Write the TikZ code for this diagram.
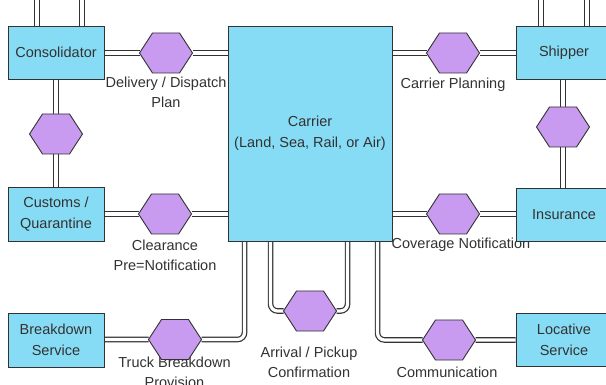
\documentclass[tikz,border=0pt]{standalone}
\usepackage{fontspec}
\setmainfont{Liberation Sans}
\usetikzlibrary{calc}
\definecolor{boxc}{RGB}{135,220,245}
\definecolor{hexc}{RGB}{200,155,240}
\definecolor{txt}{RGB}{50,50,50}
\definecolor{edge}{RGB}{50,50,50}
\tikzset{
  box/.style={draw=edge, fill=boxc, line width=0.9pt, text=txt, align=center,
    font=\fontsize{14.5}{21}\selectfont, inner sep=0pt},
  hexnode/.style={minimum width=53pt, minimum height=40pt, inner sep=0pt, outer sep=0pt},
  hexdraw/.style={draw=edge, fill=hexc, line width=0.9pt, line join=miter},
  conn/.style={draw=edge, line width=1.2pt, double=white, double distance=3.2pt},
  lab/.style={font=\fontsize{14.5}{20}\selectfont, text=txt, align=center, fill=white, inner sep=1pt}
}
\begin{document}
\begin{tikzpicture}[x=1pt,y=-1pt]
\useasboundingbox (0,0) rectangle (606,385);
\clip (0,0) rectangle (606,385);
\fill[white] (0,0) rectangle (606,385);
% hexagon anchor nodes
\node[hexnode] (hA) at (166,53) {};
\node[hexnode] (hB) at (56,134) {};
\node[hexnode] (hC) at (165,214) {};
\node[hexnode] (hD) at (175,339.5) {};
\node[hexnode] (hE) at (310,311) {};
\node[hexnode] (hF) at (449,340) {};
\node[hexnode] (hG) at (453,214) {};
\node[hexnode] (hH) at (453,53) {};
\node[hexnode] (hI) at (563,127) {};
% box positions (boxes drawn later)
\path (56,52.5) node[box, minimum width=96pt, minimum height=53pt, draw=none, fill=none] (cons) {}
      (56,214) node[box, minimum width=96pt, minimum height=54pt, draw=none, fill=none] (cust) {}
      (56,340) node[box, minimum width=96pt, minimum height=54pt, draw=none, fill=none] (brk) {}
      (310,133.5) node[box, minimum width=164pt, minimum height=215pt, draw=none, fill=none] (carrier) {}
      (564,52.5) node[box, minimum width=96pt, minimum height=53pt, draw=none, fill=none] (ship) {}
      (564,214.5) node[box, minimum width=96pt, minimum height=53pt, draw=none, fill=none] (ins) {}
      (564,339.5) node[box, minimum width=96pt, minimum height=53pt, draw=none, fill=none] (loc) {};
\coordinate (s1) at (37,-6);
\coordinate (s2) at (82,-6);
\coordinate (s3) at (541,-6);
\coordinate (s4) at (587,-6);
% connectors
\draw[conn] (s1) -- (s1 |- cons.north);
\draw[conn] (s2) -- (s2 |- cons.north);
\draw[conn] (s3) -- (s3 |- ship.north);
\draw[conn] (s4) -- (s4 |- ship.north);
\draw[conn] (cons.east |- hA) -- (hA) -- (carrier.west |- hA);
\draw[conn] (cons.south -| hB) -- (hB) -- (cust.north -| hB);
\draw[conn] (cust.east |- hC) -- (hC) -- (carrier.west |- hC);
\draw[conn, rounded corners=7pt] (brk.east |- hD) -- (hD) -| ($(carrier.south west)+(17,0)$);
\draw[conn, rounded corners=7pt] ($(carrier.south west)+(43,0)$) |- (hE.west);
\draw[conn, rounded corners=7pt] ($(carrier.south west)+(120,0)$) |- (hE.east);
\draw[conn, rounded corners=7pt] ($(carrier.south west)+(150,0)$) |- (hF) -- (loc.west |- hF);
\draw[conn] (carrier.east |- hH) -- (hH) -- (ship.west |- hH);
\draw[conn] (ship.south -| hI) -- (hI) -- (ins.north -| hI);
\draw[conn] (carrier.east |- hG) -- (hG) -- (ins.west |- hG);
% labels
\node[lab] (lA) at (166,92.5) {Delivery / Dispatch\\Plan};
\node[lab] (lH) at (453,85) {Carrier Planning};
\node[lab] (lC) at (165,255) {Clearance\\Pre=Notification};
\node[lab] (lG) at (461,245) {Coverage Notification};
\node[lab] (lD) at (174.5,372.5) {Truck Breakdown\\Provision};
\node[lab] (lE) at (309,362) {Arrival / Pickup\\Confirmation};
\node[lab] (lF) at (447,372) {Communication};
% hexagons
\foreach \h in {hA,hB,hC,hD,hE,hF,hG,hH,hI}
  \draw[hexdraw] (\h.west) -- ([xshift=13pt]\h.north west) -- ([xshift=-13pt]\h.north east)
    -- (\h.east) -- ([xshift=-13pt]\h.south east) -- ([xshift=13pt]\h.south west) -- cycle;
% boxes
\node[box, minimum width=96pt, minimum height=53pt] at (cons) {Consolidator};
\node[box, minimum width=96pt, minimum height=54pt] at (cust) {Customs /\\Quarantine};
\node[box, minimum width=96pt, minimum height=54pt] at (brk) {Breakdown\\Service};
\node[box, minimum width=164pt, minimum height=215pt] at (carrier) {Carrier\\(Land, Sea, Rail, or Air)};
\node[box, minimum width=96pt, minimum height=53pt] at (ship) {Shipper};
\node[box, minimum width=96pt, minimum height=53pt] at (ins) {Insurance};
\node[box, minimum width=96pt, minimum height=53pt] at (loc) {Locative\\Service};
\end{tikzpicture}
\end{document}
